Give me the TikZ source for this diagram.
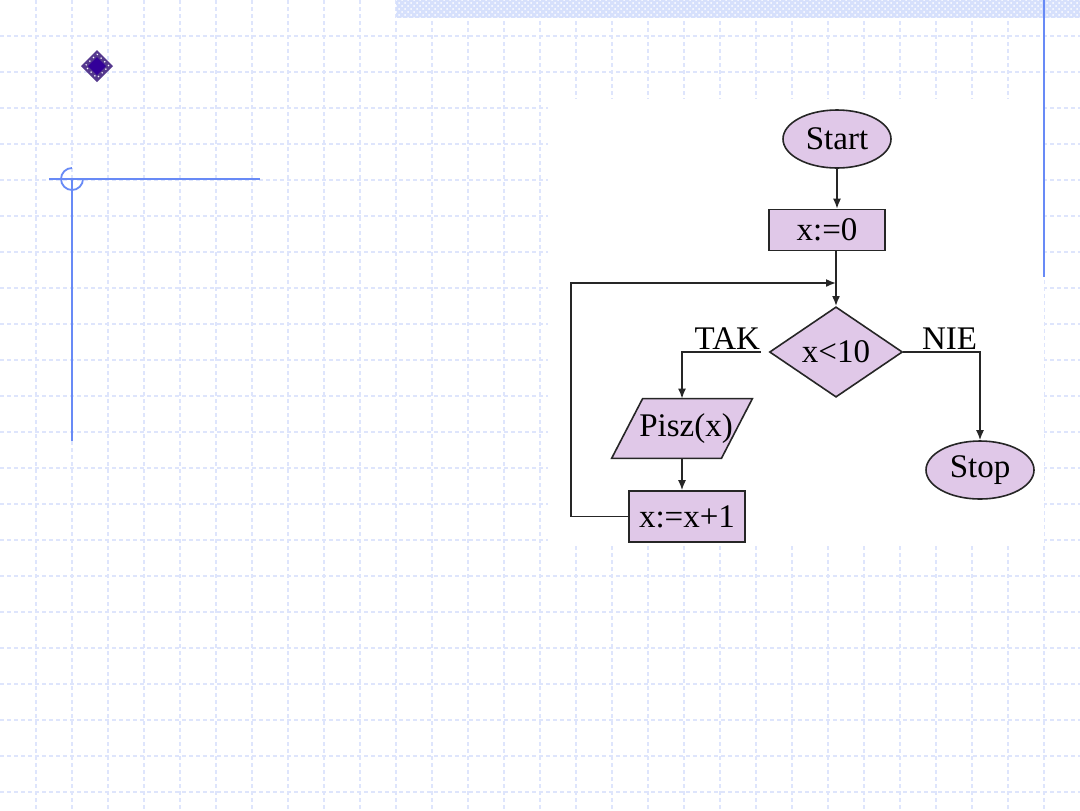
\documentclass[tikz,border=0pt]{standalone}
\usepackage{fontspec}
\setmainfont{Liberation Serif}
\usetikzlibrary{shapes.geometric,arrows.meta,calc,patterns}
\definecolor{gridc}{RGB}{222,229,252}
\definecolor{deco}{RGB}{104,138,246}
\definecolor{boxfill}{RGB}{224,200,232}
\definecolor{barc}{RGB}{214,224,252}
\definecolor{bulletc}{RGB}{51,0,153}
\begin{document}
\begin{tikzpicture}[x=0.5pt,y=-0.5pt,
  gridline/.style={draw=gridc, line width=0.55pt, dash pattern=on 2pt off 1.5pt},
  decoline/.style={draw=deco, line width=1.3pt},
  fc/.style={draw=black!85, line width=0.8pt, fill=boxfill, font=\fontsize{16.5}{19}\selectfont, inner sep=0pt},
  terminal/.style={fc, ellipse, minimum width=54pt, minimum height=29pt},
  process/.style={fc, rectangle},
  decision/.style={fc, diamond, minimum width=66.5pt, minimum height=45pt},
  conn/.style={draw=black!85, line width=0.8pt},
  arr/.style={conn, -{Latex[length=5pt,width=4pt]}},
  lab/.style={font=\fontsize{16.5}{19}\selectfont, inner sep=0pt}
]
\useasboundingbox (0,0) rectangle (1080,810);
\fill[white] (0,0) rectangle (1080,810);
% grid
\foreach \i in {1,...,29} \draw[gridline] (36*\i,0) -- (36*\i,810);
\foreach \j in {1,...,22} \draw[gridline] (0,36*\j) -- (1080,36*\j);
% white panel
\fill[white] (548,99) rectangle (1044,545);
% top hatched bar
\fill[barc] (396,0) rectangle (1080,18);
\fill[pattern=crosshatch dots, pattern color=white] (396,0) rectangle (1080,18);
% right vertical line
\draw[deco, line width=1pt] (1044,0) -- (1044,277);
% left decoration
\draw[decoline] (49,179) -- (260,179);
\draw[decoline] (72,179) -- (72,441);
\draw[deco, line width=0.9pt] (72,168) arc[start angle=90, end angle=360, radius=5.5pt];
% bullet
\fill[bulletc!55!gray] (97,50) -- (113,66) -- (97,82) -- (81,66) -- cycle;
\draw[white, dotted, line width=0.6pt] (97,54) -- (109,66) -- (97,78) -- (85,66) -- cycle;
\fill[bulletc] (97,57) -- (106,66) -- (97,75) -- (88,66) -- cycle;
% flowchart
\node[terminal] (start) at (837,139) {Start};
\node[process, minimum width=58pt, minimum height=20.5pt] (x0) at (827,230) {x:=0};
\node[decision] (dec) at (836,352) {x<10};
\node[inner sep=0pt, minimum width=70pt, minimum height=29.5pt] (pisz) at (682,428.5) {};
\filldraw[draw=black!85, line width=0.8pt, fill=boxfill] (pisz.south west) -- ($(pisz.south east)+(-31,0)$) -- (pisz.north east) -- ($(pisz.north west)+(31,0)$) -- cycle;
\node[lab] (pisztext) at ([xshift=2pt]pisz.center) {Pisz(x)};
\node[process, minimum width=58pt, minimum height=25.5pt] (inc) at (687,516.5) {x:=x+1};
\node[terminal] (stop) at (980,470) {Stop};
\coordinate (merge) at (836,283);
\coordinate (loopx) at (571,516);
% connectors
\draw[arr] (start.south) -- (start.south |- x0.north);
\draw[arr] (x0.south -| dec.north) -- (dec.north);
\draw[arr] ([xshift=-4pt]dec.west) node[lab, anchor=base east, yshift=1.5pt] (tak) {TAK} -| (pisz.north);
\draw[arr] (dec.east) node[lab, anchor=base west, xshift=9pt, yshift=1.5pt] (nie) {NIE} -| (stop.north);
\draw[arr] (pisz.south) -- (pisz.south |- inc.north);
\draw[arr] (inc.west) -- (inc.west -| loopx) |- (merge);
\end{tikzpicture}
\end{document}
